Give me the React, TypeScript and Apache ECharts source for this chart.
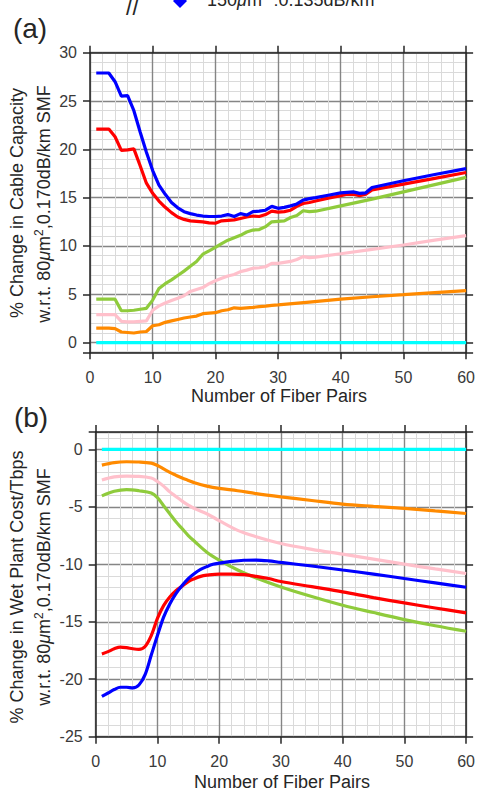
import React, { useEffect, useRef } from "react";
import * as echarts from "echarts";

// ---------- Panel (a): % change in cable capacity ----------
const capCyan: [number, number][] = [[1, 0], [60, 0]];
const capOrange: [number, number][] = [
  [1, 1.5], [2, 1.5], [3, 1.5], [4, 1.45], [5, 1.1], [6, 1.05], [7, 1.0], [8, 1.1], [9, 1.15],
  [10, 1.75], [11, 1.85], [12, 2.1], [13, 2.25], [14, 2.4], [15, 2.55], [16, 2.65], [17, 2.75],
  [18, 3.0], [19, 3.05], [20, 3.1], [21, 3.3], [22, 3.4], [23, 3.6], [24, 3.55], [25, 3.6],
  [26, 3.65], [27, 3.72], [28, 3.78], [29, 3.85], [30, 3.9], [35, 4.2], [40, 4.5], [45, 4.75],
  [50, 4.96], [55, 5.18], [60, 5.38],
];
const capPink: [number, number][] = [
  [1, 2.9], [2, 2.9], [3, 2.9], [4, 2.9], [5, 2.2], [6, 2.15], [7, 2.15], [8, 2.2], [9, 2.25],
  [10, 3.35], [11, 3.8], [12, 4.1], [13, 4.35], [14, 4.6], [15, 4.85], [16, 5.3], [17, 5.5],
  [18, 5.7], [19, 6.1], [20, 6.4], [21, 6.65], [22, 6.9], [23, 7.05], [24, 7.35], [25, 7.5],
  [26, 7.7], [27, 7.75], [28, 7.85], [29, 8.2], [30, 8.2], [31, 8.3], [32, 8.4], [33, 8.6],
  [34, 8.9], [35, 8.8], [36, 8.85], [40, 9.2], [45, 9.65], [50, 10.1], [55, 10.6], [60, 11.07],
];
const capGreen: [number, number][] = [
  [1, 4.5], [2, 4.5], [3, 4.5], [4, 4.5], [5, 3.3], [6, 3.3], [7, 3.35], [8, 3.45], [9, 3.55],
  [10, 4.4], [11, 5.6], [12, 6.1], [13, 6.5], [14, 6.95], [15, 7.4], [16, 7.9], [17, 8.4],
  [18, 9.15], [19, 9.5], [20, 9.85], [21, 10.25], [22, 10.6], [23, 10.85], [24, 11.1], [25, 11.45],
  [26, 11.65], [27, 11.7], [28, 12.0], [29, 12.5], [30, 12.55], [31, 12.6], [32, 12.95], [33, 13.15],
  [34, 13.65], [35, 13.55], [36, 13.6], [40, 14.15], [45, 14.85], [50, 15.6], [55, 16.35], [60, 17.1],
];
const capRed: [number, number][] = [
  [1, 22.1], [2, 22.1], [3, 22.1], [4, 21.3], [5, 19.9], [6, 19.95], [7, 20.05], [8, 18.3], [9, 16.5],
  [10, 15.45], [11, 14.65], [12, 14.0], [13, 13.45], [14, 13.0], [15, 12.75], [16, 12.6], [17, 12.55],
  [18, 12.5], [19, 12.4], [20, 12.35], [21, 12.6], [22, 12.65], [23, 12.7], [24, 12.85], [25, 13.0],
  [26, 13.1], [27, 13.05], [28, 13.25], [29, 13.6], [30, 13.5], [31, 13.55], [32, 13.7], [33, 14.1],
  [34, 14.4], [35, 14.5], [36, 14.65], [38, 14.95], [40, 15.2], [41, 15.35], [42, 15.35], [43, 15.2],
  [44, 15.35], [45, 15.8], [50, 16.4], [55, 17.0], [60, 17.6],
];
const capBlue: [number, number][] = [
  [1, 27.9], [2, 27.9], [3, 27.9], [4, 27.0], [5, 25.5], [6, 25.55], [7, 24.0], [8, 21.8], [9, 19.7],
  [10, 17.8], [11, 16.3], [12, 15.35], [13, 14.5], [14, 13.95], [15, 13.55], [16, 13.35], [17, 13.2],
  [18, 13.1], [19, 13.05], [20, 13.05], [21, 13.1], [22, 13.25], [23, 13.05], [24, 13.35], [25, 13.2],
  [26, 13.55], [27, 13.6], [28, 13.7], [29, 14.1], [30, 13.9], [31, 14.0], [32, 14.15], [33, 14.35],
  [34, 14.75], [35, 14.9], [36, 15.0], [38, 15.25], [40, 15.5], [41, 15.55], [42, 15.6], [43, 15.45],
  [44, 15.5], [45, 16.05], [50, 16.75], [55, 17.4], [60, 18.0],
];

// ---------- Panel (b): % change in wet plant cost / Tbps ----------
const costCyan: [number, number][] = [[1, 0], [60, 0]];
const costOrange: [number, number][] = [
  [1, -1.37], [3, -1.15], [5, -1.08], [7, -1.1], [9, -1.2], [10, -1.4], [11, -1.7], [12, -2.0],
  [13, -2.25], [14, -2.5], [15, -2.7], [16, -2.9], [18, -3.2], [20, -3.4], [23, -3.6], [26, -3.85],
  [30, -4.13], [35, -4.45], [40, -4.76], [45, -4.96], [50, -5.14], [55, -5.36], [60, -5.58],
];
const costPink: [number, number][] = [
  [1, -2.67], [3, -2.4], [5, -2.33], [7, -2.35], [9, -2.5], [10, -2.8], [11, -3.2], [12, -3.7],
  [13, -4.1], [14, -4.5], [15, -4.85], [16, -5.15], [18, -5.6], [20, -6.2], [23, -7.05], [26, -7.6],
  [30, -8.19], [35, -8.7], [40, -9.12], [45, -9.55], [50, -9.99], [55, -10.4], [60, -10.8],
];
const costGreen: [number, number][] = [
  [1, -4.05], [3, -3.65], [5, -3.5], [7, -3.6], [9, -3.8], [10, -4.2], [11, -4.9], [12, -5.6],
  [13, -6.3], [14, -6.9], [15, -7.5], [16, -8.0], [18, -8.95], [20, -9.64], [23, -10.5], [26, -11.2],
  [30, -11.97], [35, -12.8], [40, -13.56], [45, -14.2], [50, -14.81], [55, -15.35], [60, -15.83],
];
const costRed: [number, number][] = [
  [1, -17.8], [2, -17.6], [3, -17.35], [4, -17.2], [5, -17.25], [6, -17.35], [7, -17.4], [8, -17.15],
  [9, -16.2], [10, -14.7], [11, -13.6], [12, -12.85], [13, -12.3], [14, -11.9], [15, -11.5],
  [16, -11.25], [17, -11.05], [18, -10.95], [20, -10.85], [22, -10.85], [24, -10.9], [26, -11.05],
  [28, -11.24], [30, -11.5], [35, -11.95], [40, -12.4], [45, -12.9], [50, -13.36], [55, -13.8], [60, -14.23],
];
const costBlue: [number, number][] = [
  [1, -21.5], [2, -21.2], [3, -20.9], [4, -20.7], [5, -20.7], [6, -20.75], [7, -20.5], [8, -19.6],
  [9, -17.9], [10, -16.2], [11, -14.6], [12, -13.45], [13, -12.55], [14, -11.85], [15, -11.25],
  [16, -10.8], [17, -10.45], [18, -10.2], [19, -10.0], [20, -9.9], [22, -9.75], [24, -9.65],
  [26, -9.63], [28, -9.7], [30, -9.84], [35, -10.15], [40, -10.5], [45, -10.85], [50, -11.24],
  [55, -11.62], [60, -12.0],
];

const xTitle = "Number of Fiber Pairs";
const yTitleA = "% Change in Cable Capacity";
const yTitleB = "% Change in Wet Plant Cost/Tbps";
const yRefLine = "{a|w.r.t. 80}{i|μ}{a|m}{s|2}{a|,0.170dB/km SMF}";
const legendText = "{a|150}{i|μ}{a|m}{s|2}{a| :0.135dB/km}";

const FONT = "Liberation Sans, Arial, Helvetica, sans-serif";
const AXIS = "#262626";
const LABEL = "#3a3a3a";
const MAJOR = "#858585";
const MINOR = "#dadada";

const C = {
  cyan: "#00ffff",
  orange: "#ff8a00",
  pink: "#ffc0cb",
  green: "#8fcb3c",
  red: "#ff0000",
  blue: "#0000ff",
};

const richTitle = {
  a: { fontSize: 18, fontFamily: FONT, fill: AXIS, color: AXIS, lineHeight: 22 },
  i: { fontSize: 18, fontFamily: FONT, fontStyle: "italic", fill: AXIS, color: AXIS, lineHeight: 22 },
  s: { fontSize: 12, fontFamily: FONT, fill: AXIS, color: AXIS, lineHeight: 12, verticalAlign: "top" },
};

function fmt(v: number) {
  return Math.abs(v - Math.round(v)) < 1e-6 && Math.round(v) % 5 === 0 ? String(v) : "";
}

function xAxes(gridIndex: number) {
  const common = {
    type: "value",
    gridIndex,
    min: 0,
    max: 60,
    interval: 10,
    z: 1,
    axisLine: { show: true, onZero: false, lineStyle: { color: AXIS, width: 1.5 } },
    axisTick: { show: true, inside: false, length: 7, lineStyle: { color: AXIS, width: 1.5 } },
  };
  return [
    {
      ...common,
      position: "bottom",
      axisLabel: { show: true, fontSize: 16, fontFamily: FONT, color: LABEL, margin: 17 },
      splitLine: { show: true, lineStyle: { color: MAJOR, width: 1.4 } },
      minorTick: { show: false, splitNumber: 5 },
      minorSplitLine: { show: true, lineStyle: { color: MINOR, width: 1 } },
    },
    {
      ...common,
      position: "top",
      axisLabel: { show: false },
      splitLine: { show: false },
    },
  ];
}

function yAxes(gridIndex: number, min: number, max: number, major: any) {
  const common = {
    type: "value",
    gridIndex,
    min,
    max,
    ...major,
    z: 1,
    axisLine: { show: true, onZero: false, lineStyle: { color: AXIS, width: 1.5 } },
    axisTick: { show: true, inside: false, length: 7, lineStyle: { color: AXIS, width: 1.5 } },
  };
  return [
    {
      ...common,
      position: "left",
      axisLabel: { show: true, fontSize: 16, fontFamily: FONT, color: LABEL, margin: 13, formatter: fmt },
      splitLine: { show: true, lineStyle: { color: MAJOR, width: 1.4 } },
    },
    {
      ...common,
      position: "right",
      axisLabel: { show: false },
      splitLine: { show: false },
    },
    {
      type: "value",
      gridIndex,
      min,
      max,
      interval: 1,
      z: 0,
      axisLine: { show: false },
      axisTick: { show: false },
      axisLabel: { show: false },
      splitLine: { show: true, lineStyle: { color: MINOR, width: 1 } },
    },
  ];
}

function line(data: [number, number][], color: string, xi: number, yi: number, smooth: number | boolean) {
  return {
    type: "line",
    data,
    xAxisIndex: xi,
    yAxisIndex: yi,
    symbol: "none",
    showSymbol: false,
    smooth,
    silent: true,
    z: 3,
    lineStyle: { color, width: 3.2 },
    itemStyle: { color },
  };
}

function vText(x: number, y: number, text: string, rich?: any) {
  return {
    type: "text",
    x,
    y,
    rotation: Math.PI / 2,
    style: {
      text,
      fontSize: 18,
      fontFamily: FONT,
      fill: AXIS,
      align: "center",
      verticalAlign: "middle",
      ...(rich ? { rich } : {}),
    },
  };
}

function hText(x: number, y: number, text: string, size: number, rich?: any) {
  return {
    type: "text",
    x,
    y,
    style: {
      text,
      fontSize: size,
      fontFamily: FONT,
      fill: AXIS,
      align: "center",
      verticalAlign: "middle",
      ...(rich ? { rich } : {}),
    },
  };
}

export default function App() {
  const ref = useRef<HTMLDivElement>(null);
  useEffect(() => {
    if (!ref.current) return;
    const chart = echarts.init(ref.current, null, { renderer: "svg" });
    const option: any = {
      animation: false,
      backgroundColor: "#ffffff",
      grid: [
        { left: 90, right: 9.7, top: 52.7, height: 299.6 },
        { left: 95.7, right: 9.7, top: 432.1, height: 304.6 },
      ],
      xAxis: [...xAxes(0), ...xAxes(1)],
      yAxis: [
        ...yAxes(0, -1, 30, { splitNumber: 6 }),
        ...yAxes(1, -25, 1.5, { interval: 5 }),
      ],
      series: [
        line(capCyan, C.cyan, 0, 0, false),
        line(capOrange, C.orange, 0, 0, false),
        line(capPink, C.pink, 0, 0, false),
        line(capGreen, C.green, 0, 0, false),
        line(capRed, C.red, 0, 0, false),
        line(capBlue, C.blue, 0, 0, false),
        line(costCyan, C.cyan, 2, 3, false),
        line(costOrange, C.orange, 2, 3, 0.35),
        line(costPink, C.pink, 2, 3, 0.35),
        line(costGreen, C.green, 2, 3, 0.35),
        line(costRed, C.red, 2, 3, 0.35),
        line(costBlue, C.blue, 2, 3, 0.35),
      ],
      graphic: [
        hText(30, 28, "(a)", 28),
        hText(31, 417, "(b)", 28),
        hText(279, 396, xTitle, 18),
        hText(282, 782, xTitle, 18),
        vText(17, 203, yTitleA),
        vText(44, 204, yRefLine, richTitle),
        vText(17, 587, yTitleB),
        vText(44, 587, yRefLine, richTitle),
        {
          type: "text",
          x: 126,
          y: 7,
          style: { text: "//", fontSize: 23, fontFamily: FONT, fill: AXIS, align: "left", verticalAlign: "middle" },
        },
        {
          type: "polygon",
          shape: { points: [[180, -6], [187, 1], [180, 8], [173, 1]] },
          style: { fill: C.blue },
        },
        {
          type: "text",
          x: 207,
          y: 0,
          style: {
            text: legendText,
            fontSize: 18,
            fontFamily: FONT,
            fill: AXIS,
            align: "left",
            verticalAlign: "middle",
            rich: richTitle,
          },
        },
      ],
    };
    chart.setOption(option);
    return () => chart.dispose();
  }, []);
  return (
    <div
      ref={ref}
      style={{ position: "absolute", left: 0, top: 0, width: 478, height: 791 }}
    />
  );
}
